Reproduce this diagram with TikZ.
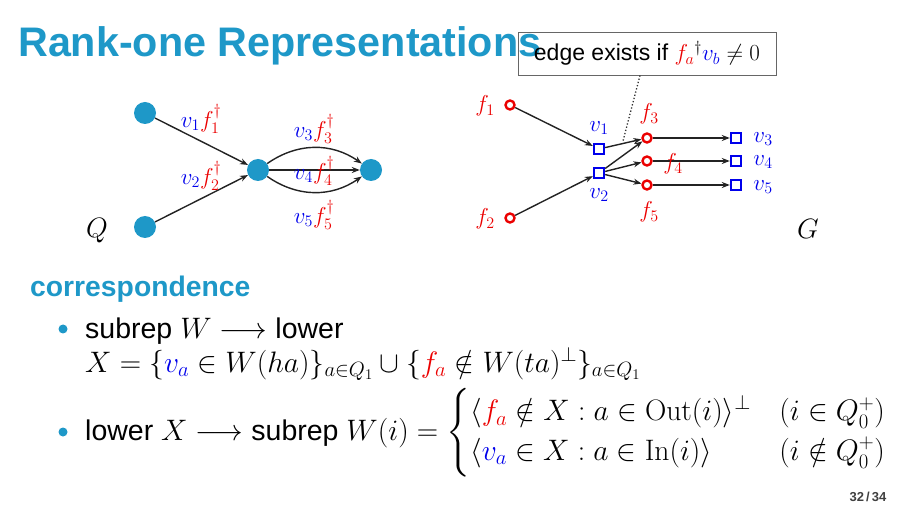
\RequirePackage{fix-cm}
\documentclass[tikz,border=0pt]{standalone}
\usepackage{amsmath,amssymb}
\usepackage[no-math]{fontspec}
\setmainfont{Liberation Sans}
\usetikzlibrary{arrows.meta}
\DeclareMathSizes{28.5}{29.6}{20.7}{14.8}
\definecolor{sblue}{RGB}{30,152,200}
\definecolor{vcol}{RGB}{0,0,235}
\definecolor{fcol}{RGB}{235,0,0}
\definecolor{edgecol}{RGB}{35,35,35}
\newcommand{\myv}[1]{\textcolor{vcol}{#1}}
\newcommand{\myf}[1]{\textcolor{fcol}{#1}}
\begin{document}
\begin{tikzpicture}[x=1pt,y=-1pt,
  qnode/.style={circle, fill=sblue, minimum size=22pt, inner sep=0pt},
  fnode/.style={circle, draw=fcol, line width=2.4pt, fill=white, minimum size=9pt, inner sep=0pt},
  vnode/.style={rectangle, draw=vcol, line width=2.4pt, fill=white, minimum size=10pt, inner sep=0pt},
  arr/.style={draw=edgecol, line width=1.4pt, -{Stealth[length=8pt,width=6pt]}},
  qlab/.style={font=\fontsize{23}{26}\selectfont, inner sep=0pt},
  glab/.style={font=\fontsize{23}{26}\selectfont, inner sep=0pt},
  bigl/.style={font=\fontsize{28}{30}\selectfont, inner sep=0pt},
  txt/.style={anchor=base west, inner sep=0pt, font=\fontsize{28.5}{33}\selectfont},
  bul/.style={circle, fill=sblue, minimum size=9pt, inner sep=0pt}
]
\useasboundingbox (0,0) rectangle (907,510);

% title
\node[anchor=base west, inner sep=0pt, text=sblue, font=\fontsize{41.3}{48}\selectfont\bfseries] (title) at (18,57) {Rank-one Representations};

% annotation box
\node[draw=black!60, line width=0.9pt, minimum width=258pt, minimum height=43pt, inner sep=0pt, font=\fontsize{23}{26}\selectfont] (box) at (647,53.5) {\raisebox{-3pt}{edge exists if $\myf{f_a}{}^\dagger\myv{v_b}\neq 0$}};
\coordinate (dotend) at (623,141);
\draw[dotted, line width=1.3pt, black!80] ([xshift=-7pt]box.south) -- (dotend);

% quiver Q
\node[qnode] (A) at (145,113) {};
\node[qnode] (B) at (145,227) {};
\node[qnode] (C) at (258,170) {};
\node[qnode] (D) at (371,170) {};
\draw[arr] (A) -- (C);
\draw[arr] (B) -- (C);
\draw[arr] (C) to[bend left=35] (D);
\draw[arr] (C) -- (D);
\draw[arr] (C) to[bend right=35] (D);
\node[qlab] (l1) at (201,119) {$\myv{v_1}\myf{f_1^\dagger}$};
\node[qlab] (l2) at (201,176) {$\myv{v_2}\myf{f_2^\dagger}$};
\node[qlab] (l3) at (314,129) {$\myv{v_3}\myf{f_3^\dagger}$};
\node[qlab] (l4) at (314,171) {$\myv{v_4}\myf{f_4^\dagger}$};
\node[qlab] (l5) at (314,215) {$\myv{v_5}\myf{f_5^\dagger}$};
\node[bigl] (Q) at (97,231) {$Q$};

% graph G
\node[fnode] (f1) at (510,105) {};
\node[fnode] (f2) at (510,218) {};
\node[vnode] (v1) at (599,149) {};
\node[vnode] (v2) at (599,173) {};
\node[fnode] (f3) at (647,138) {};
\node[fnode] (f4) at (647,161) {};
\node[fnode] (f5) at (647,185) {};
\node[vnode] (v3) at (736,138) {};
\node[vnode] (v4) at (736,161) {};
\node[vnode] (v5) at (736,185) {};
\draw[arr] (f1) -- (v1);
\draw[arr] (f2) -- (v2);
\draw[arr] (v1) -- (f3);
\draw[arr] (v2) -- (f3);
\draw[arr] (v2) -- (f4);
\draw[arr] (v2) -- (f5);
\draw[arr] (f3) -- (v3);
\draw[arr] (f4) -- (v4);
\draw[arr] (f5) -- (v5);
\node[glab] (lf1) at (485,106) {$\myf{f_1}$};
\node[glab] (lf2) at (485,219) {$\myf{f_2}$};
\node[glab] (lv1) at (599,128) {$\myv{v_1}$};
\node[glab] (lv2) at (599,195) {$\myv{v_2}$};
\node[glab] (lf3) at (649,114) {$\myf{f_3}$};
\node[glab] (lf4) at (673,164) {$\myf{f_4}$};
\node[glab] (lf5) at (649,212) {$\myf{f_5}$};
\node[glab] (lv3) at (763,139) {$\myv{v_3}$};
\node[glab] (lv4) at (763,162) {$\myv{v_4}$};
\node[glab] (lv5) at (763,187) {$\myv{v_5}$};
\node[bigl] (G) at (808,229) {$G$};

% correspondence
\node[anchor=base west, inner sep=0pt, text=sblue, font=\fontsize{28.3}{32}\selectfont\bfseries] (corr) at (30,297) {correspondence};
\node[bul] (b1) at (63,329) {};
\node[txt] (t1) at (85,338) {subrep $W\longrightarrow$ lower};
\node[txt] (t2) at (85,372) {$X=\{\myv{v_a}\in W(ha)\}_{a\in Q_1}\cup\{\myf{f_a}\notin W(ta)^\perp\}_{a\in Q_1}$};
\node[bul] (b2) at (63,432) {};
\node[txt] (t3) at (85,440) {lower $X\longrightarrow$ subrep $W(i)=\begin{cases}\langle \myf{f_a}\notin X : a\in\mathrm{Out}(i)\rangle^\perp & (i\in Q_0^+)\\ \langle \myv{v_a}\in X : a\in\mathrm{In}(i)\rangle & (i\notin Q_0^+)\end{cases}$};

% page number
\node[inner sep=0pt, text=black!75, font=\fontsize{13}{15}\selectfont\bfseries] (pg) at (868,497) {32\,/\,34};
\end{tikzpicture}
\end{document}
